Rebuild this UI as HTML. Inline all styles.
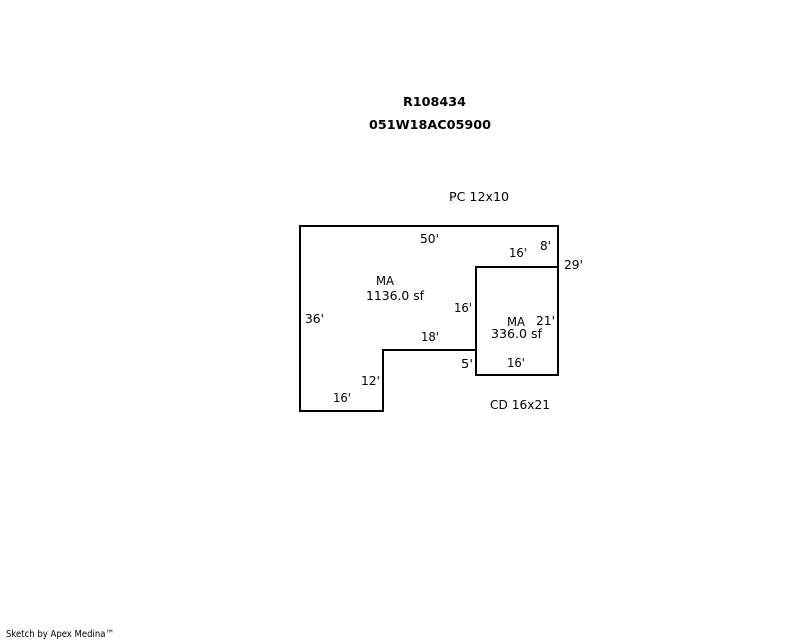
<!DOCTYPE html>
<html>
<head>
<meta charset="utf-8">
<style>
html,body{margin:0;padding:0;background:#fff;width:800px;height:640px;overflow:hidden}
svg{display:block}
text{font-family:"DejaVu Sans","Liberation Sans",sans-serif;font-size:12px;fill:#000}
.b{font-weight:bold;font-size:12px}
</style>
</head>
<body>
<svg width="800" height="640" viewBox="0 0 800 640" xmlns="http://www.w3.org/2000/svg">
<g fill="none" stroke="#000" stroke-width="2" shape-rendering="crispEdges">
<path d="M300 226H558V375H476V350H383V411H300Z"/>
<path d="M476 350V267H558"/>
</g>
<text class="b" x="403" y="106" textLength="63" lengthAdjust="spacingAndGlyphs">R108434</text>
<text class="b" x="369" y="129" textLength="122" lengthAdjust="spacingAndGlyphs">051W18AC05900</text>
<text x="449" y="201" textLength="60" lengthAdjust="spacingAndGlyphs">PC 12x10</text>
<text x="420" y="243" textLength="19" lengthAdjust="spacingAndGlyphs">50'</text>
<text x="509" y="257" textLength="18" lengthAdjust="spacingAndGlyphs">16'</text>
<text x="540" y="250" textLength="11" lengthAdjust="spacingAndGlyphs">8'</text>
<text x="564" y="269" textLength="19" lengthAdjust="spacingAndGlyphs">29'</text>
<text x="376" y="285" textLength="18" lengthAdjust="spacingAndGlyphs">MA</text>
<text x="366" y="300" textLength="58" lengthAdjust="spacingAndGlyphs">1136.0 sf</text>
<text x="454" y="312" textLength="18" lengthAdjust="spacingAndGlyphs">16'</text>
<text x="305" y="323" textLength="19" lengthAdjust="spacingAndGlyphs">36'</text>
<text x="507" y="326" textLength="18" lengthAdjust="spacingAndGlyphs">MA</text>
<text x="536" y="325" textLength="19" lengthAdjust="spacingAndGlyphs">21'</text>
<text x="491" y="338" textLength="51" lengthAdjust="spacingAndGlyphs">336.0 sf</text>
<text x="421" y="341" textLength="18" lengthAdjust="spacingAndGlyphs">18'</text>
<text x="461" y="368" textLength="12" lengthAdjust="spacingAndGlyphs">5'</text>
<text x="507" y="367" textLength="18" lengthAdjust="spacingAndGlyphs">16'</text>
<text x="361" y="385" textLength="19" lengthAdjust="spacingAndGlyphs">12'</text>
<text x="333" y="402" textLength="18" lengthAdjust="spacingAndGlyphs">16'</text>
<text x="490" y="409" textLength="60" lengthAdjust="spacingAndGlyphs">CD 16x21</text>
<text x="6" y="637" style="font-size:10px" textLength="108" lengthAdjust="spacingAndGlyphs">Sketch by Apex Medina™</text>
</svg>
</body>
</html>
